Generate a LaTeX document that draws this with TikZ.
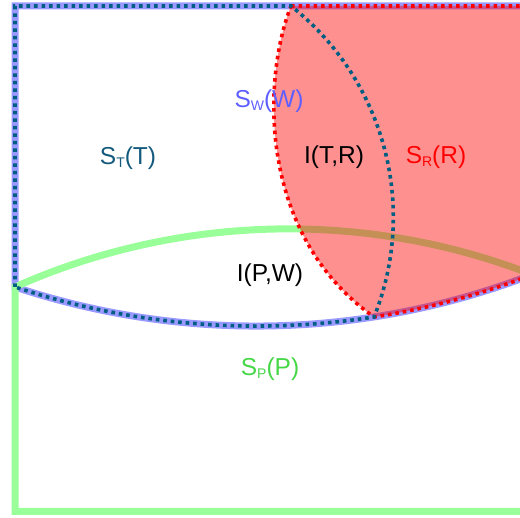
\documentclass[tikz,border=0pt]{standalone}
\usepackage{fontspec}
\setmainfont{Liberation Sans}
\definecolor{wblue}{RGB}{153,153,255}
\definecolor{pgreen}{RGB}{153,255,153}
\definecolor{tteal}{RGB}{0,94,130}
\definecolor{wtext}{RGB}{95,95,255}
\definecolor{ttext}{RGB}{20,90,125}
\definecolor{ptext}{RGB}{70,215,70}
\newcommand{\mysub}[1]{\raisebox{-0.12em}{\fontsize{14}{14}\selectfont #1}}
\begin{document}
\begin{tikzpicture}[x=1pt,y=1pt,
  wline/.style={draw=wblue,line width=7pt},
  pline/.style={draw=pgreen,line width=7pt},
  rdots/.style={draw=red,line width=3.6pt,dash pattern=on 3.6pt off 3.9pt},
  tdots/.style={draw=tteal,line width=3.6pt,dash pattern=on 3.6pt off 3.9pt},
  lbl/.style={font=\fontsize{24.5}{24.5}\selectfont, inner sep=0pt}]
\useasboundingbox (0,0) rectangle (520,518);
\clip (0,0) rectangle (520,518);
% S_W(W)
\draw[wline] (530,512) -- (15,512) -- (15,231) arc[start angle=-108.39,end angle=-69.04,radius=764.8];
% S_P(P)
\draw[pline] (530,6.7) -- (15,6.7) -- (15,231) arc[start angle=113.99,end angle=68.96,radius=672.8];
% S_R(R)
\fill[red,fill opacity=0.435] (291,512) -- (530,512) -- (530,242.5) arc[start angle=-69.04,end angle=-81.15,radius=764.8] .. controls (258,283) and (262,438) .. (291,512) -- cycle;
\draw[rdots] (291,512) -- (530,512) -- (530,242.5) arc[start angle=-69.04,end angle=-81.15,radius=764.8] .. controls (258,283) and (262,438) .. (291,512);
% S_T(T)
\draw[tdots] (15,231) -- (15,512) -- (291,512) arc[start angle=51.71,end angle=-21.79,radius=269] arc[start angle=-81.15,end angle=-108.39,radius=764.8] -- cycle;
% labels
\node[lbl,text=wtext] (sw) at (269,417) {S\mysub{W}(W)};
\node[lbl,text=ttext] (st) at (128,360) {S\mysub{T}(T)};
\node[lbl] (itr) at (334,361) {I(T,R)};
\node[lbl,text=red] (sr) at (436,361) {S\mysub{R}(R)};
\node[lbl] (ipw) at (270,243) {I(P,W)};
\node[lbl,text=ptext] (sp) at (270,149) {S\mysub{P}(P)};
\end{tikzpicture}
\end{document}
